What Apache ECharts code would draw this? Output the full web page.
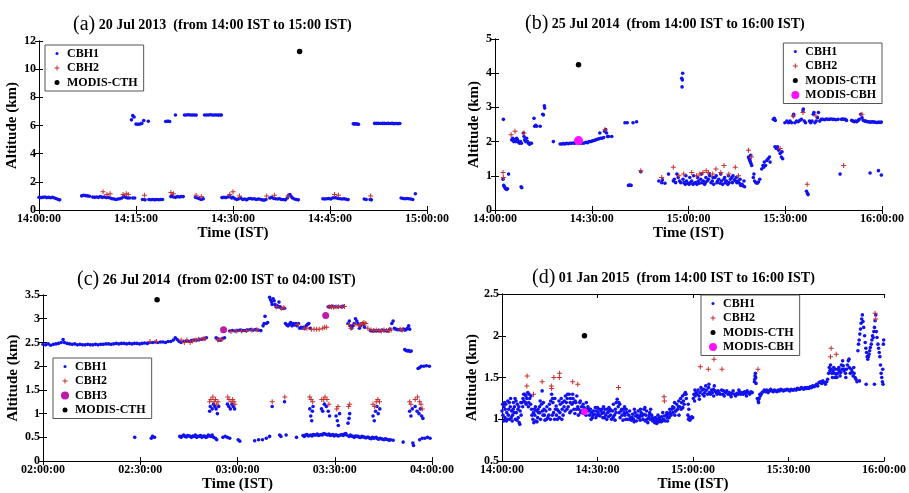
<!DOCTYPE html>
<html><head><meta charset="utf-8">
<script src="https://cdn.jsdelivr.net/npm/echarts@6/dist/echarts.min.js"></script>
<style>html,body{margin:0;padding:0;background:#fff}#c{width:909px;height:493px}</style>
</head><body><div id="c"></div>
<script>
// time in minutes after panel start, altitude in km
const panelTitles = ['(a)', '(b)', '(c)', '(d)'];
const panelSubtitles = [
  ' 20 Jul 2013  (from 14:00 IST to 15:00 IST)',
  ' 25 Jul 2014  (from 14:00 IST to 16:00 IST)',
  ' 26 Jul 2014  (from 02:00 IST to 04:00 IST)',
  ' 01 Jan 2015  (from 14:00 IST to 16:00 IST)'
];
const startHours = [14, 14, 2, 14];

// ---------- panel (a) ----------
const a_cbh1 = [
[0,0.9],[0.3,0.88],[0.6,0.9],[0.9,0.92],[1.2,0.88],[1.5,0.9],[1.8,0.87],[2.1,0.9],[2.4,0.85],[2.7,0.8],[3.0,0.75],[3.2,0.72],
[6.6,1.0],[6.9,1.05],[7.2,1.02],[7.5,1.0],[7.8,0.98],
[8.3,0.92],[8.6,0.9],[8.9,0.92],[9.2,0.9],[9.5,0.95],[9.8,0.9],[10.1,0.92],[10.4,0.88],[10.7,0.9],[11,0.85],[11.3,0.8],[11.6,0.78],[11.9,0.75],[12.2,0.78],[12.5,0.8],[12.8,0.85],[13.1,0.95],[13.4,0.9],[13.7,0.85],[14.0,0.85],
[14.3,6.4],[14.5,6.7],[14.7,6.6],[15.0,6.1],[15.3,6.08],[15.6,6.1],[15.9,6.15],[16.2,6.35],[16.9,6.3],
[14.5,0.85],[14.8,0.85],[16.0,0.75],[16.4,0.72],
[17.0,0.75],[17.3,0.73],[17.6,0.75],[17.9,0.72],[18.2,0.75],[18.5,0.73],[18.8,0.75],[19.1,0.75],
[19.6,6.28],[19.8,6.3],[20.0,6.3],[20.2,6.28],
[20.4,0.95],[20.6,1.0],[20.8,0.92],[21.1,0.9],[21.4,0.95],[21.7,0.92],[22.0,0.95],[22.3,0.95],
[21.1,6.75],
[22.5,6.75],[22.8,6.75],[23.1,6.76],[23.4,6.75],[23.7,6.75],[24.0,6.75],[24.3,6.74],
[24.2,0.9],[24.5,0.85],[24.8,0.8],[25.1,0.75],[25.4,0.8],
[25.6,6.75],[25.9,6.75],[26.2,6.75],[26.5,6.76],[26.8,6.75],[27.1,6.75],[27.4,6.75],[27.7,6.74],[28.0,6.75],[28.2,6.75],
[28.3,0.88],[28.6,0.9],[28.9,0.88],[29.2,0.92],[29.5,0.95],[29.8,0.85],[30.0,0.9],
[30.3,0.8],[30.6,0.75],[30.9,0.8],[31.2,0.85],[31.5,0.75],[31.8,0.78],[32.1,0.72],[32.4,0.8],[32.7,0.82],[33.0,0.78],[33.3,0.8],[33.6,0.75],[33.9,0.78],[34.2,0.76],[34.5,0.72],[34.8,0.7],[35.1,0.75],
[35.7,0.85],[36.0,0.9],[36.3,0.82],[36.6,0.8],[36.9,0.78],[37.2,0.8],[37.5,0.75],[37.8,0.75],[38.1,0.72],[38.4,0.85],[38.6,1.05],[38.8,1.1],[39.0,0.95],[39.2,0.85],
[39.5,0.78],[39.8,0.75],[40.1,0.72],
[43.9,0.8],[44.2,0.78],[44.5,0.8],[44.8,0.82],[45.1,0.78],[45.4,0.85],[45.7,0.88],[46.0,0.85],[46.3,0.82],[46.6,0.8],[46.9,0.78],[47.2,0.8],[47.5,0.76],[47.8,0.74],
[48.6,6.12],[48.8,6.1],[49.0,6.12],[49.2,6.1],[49.4,6.08],
[50.3,0.78],[50.6,0.75],[51.2,0.75],[51.4,0.72],
[51.9,6.15],[52.2,6.15],[52.5,6.15],[52.8,6.14],[53.1,6.15],[53.4,6.15],[53.7,6.14],[54.0,6.15],[54.3,6.14],[54.6,6.15],[54.9,6.13],[55.2,6.14],[55.5,6.13],[55.8,6.14],
[56.0,0.85],[56.3,0.82],[56.6,0.8],[56.9,0.82],[57.2,0.8],[57.5,0.78],[57.8,0.75],[58.2,1.15]
];
const a_cbh2 = [[9.9,1.3],[10.5,1.1],[11.0,1.15],[13.0,1.1],[13.5,1.15],[13.8,1.1],[16.3,1.05],[20.4,1.25],[20.8,1.15],[24.3,1.05],[25.1,0.95],[29.5,1.1],[30.0,1.3],[31.0,1.0],[35.2,1.0],[36.4,1.05],[38.5,1.0],[45.7,1.1],[46.3,1.05],[51.3,1.0]];
const a_cth = [[40.3,11.25]];

// ---------- panel (b) ----------
const b_cbh1 = [
[2.6,2.65],[2.5,0.9],[2.7,0.72],[2.9,0.68],[3.1,0.65],[3.3,0.62],[3.6,0.6],[3.9,0.62],[4.2,1.05],
[5.2,2.05],[5.5,2.1],[5.8,2.0],[6.1,2.05],[6.4,2.0],[6.7,2.1],[7.0,2.05],[7.3,1.98],[7.6,1.95],[7.9,2.0],[8.2,1.95],
[8.1,0.68],[8.3,0.65],
[8.8,2.25],[9.0,2.15],[9.2,2.05],[9.5,2.0],[9.8,2.1],[10.1,2.0],[10.4,1.95],[10.7,1.92],[11.0,1.95],[11.3,1.95],
[12.1,2.68],[12.3,2.45],[12.6,2.48],[12.9,2.45],[14.0,2.45],[14.8,2.8],[15.0,2.78],[15.3,3.05],[15.4,2.98],
[18.1,2.0],
[20.2,1.93],[20.7,1.93],[21.2,1.94],[21.7,1.93],[22.2,1.95],[22.7,1.94],[23.2,1.95],[23.7,1.95],[24.2,1.96],[24.7,1.95],[25.2,1.97],[25.7,1.96],[26.2,1.95],[26.7,1.96],[27.2,1.95],[27.7,1.96],[28.2,1.98],[28.7,1.97],[29.2,2.0],[29.7,2.0],[30.2,2.02],[30.7,2.03],[31.2,2.05],[31.7,2.07],[32.2,2.08],[32.5,2.25],[32.7,2.1],[33.2,2.1],[33.7,2.12],[34.0,2.3],[34.3,2.35],[34.6,2.25],[34.9,2.15],[35.2,2.15],[36.2,2.15],
[40.3,2.55],[41.0,2.55],[42.8,2.55],[43.9,2.58],
[41.4,0.72],[41.8,0.73],[42.2,0.72],
[45.2,1.12],
[50.8,0.85],[51.7,0.8],[51.9,0.88],[52.7,0.78],[53.8,1.05],
[55.3,0.85],[55.6,0.9],[56.0,0.8],[56.4,1.05],[56.8,0.95],[57.2,0.85],[57.6,0.8],
[57.9,3.85],[58.0,3.6],[58.2,4.0],[58.1,3.8],
[58.3,0.9],[58.6,0.8],[59.0,0.75],[59.4,0.85],[59.8,0.78],[60.2,0.75],[60.6,0.8],[61.0,0.85],[61.4,0.75],[61.8,0.78],[62.2,0.8],[62.6,0.75],[63.0,0.85],[63.4,0.78],[63.8,0.9],[64.2,0.8],[64.6,0.85],[65.0,0.75],[65.4,0.95],[65.8,0.85],[66.2,0.9],[66.6,1.0],[67.0,0.8],[67.4,0.85],[67.8,0.75],[68.2,0.95],[68.6,1.0],[69.0,0.85],[69.4,0.9],[69.8,0.78],[70.2,0.85],[70.6,0.75],[71.0,0.9],[71.4,0.8],[71.8,0.85],[72.2,0.75],[72.6,0.8],[73.0,0.9],[73.4,0.95],[73.8,1.0],[74.2,0.88],[74.6,0.85],[75.0,0.8],[75.4,0.85],[75.8,0.78],[76.2,0.72],[76.6,0.75],[77.0,0.7],[77.4,0.68],
[59.2,1.0],[60.4,0.95],[61.6,1.0],[62.8,0.95],[64.0,1.05],[65.2,0.8],[66.4,1.05],[67.6,0.95],[68.8,0.8],[70.0,1.05],[71.2,0.95],[72.4,1.0],[73.6,0.8],[74.8,0.95],[76.0,0.9],[77.2,0.85],
[78.6,1.55],[78.8,1.5],[79.0,1.45],[79.2,1.4],[79.4,1.35],[79.6,1.3],[79.3,1.6],
[80.1,0.95],[80.5,0.85],[80.9,0.8],[81.3,0.78],[81.7,0.82],[82.1,0.9],[80.3,1.05],
[82.7,1.2],[83.1,1.3],[83.5,1.4],[83.9,1.3],[84.3,1.45],[84.7,1.5],[85.1,1.55],[85.3,1.4],[83.3,1.25],
[86.3,2.65],[86.6,2.68],[86.9,2.62],
[86.8,1.85],[87.2,1.8],[87.6,1.85],[88.0,1.75],[88.4,1.65],[88.8,1.55],[89.2,1.5],[89.0,1.7],
[89.9,2.55],[90.5,2.6],[91.0,2.55],[91.5,2.6],[92.0,2.55],[92.5,2.75],[92.6,2.8],[93.0,2.55],[93.5,2.6],[94.0,2.58],[94.5,2.62],[95.0,2.65],[95.5,2.9],[95.6,2.95],[95.9,2.6],[96.3,2.55],
[96.6,0.55],[96.9,0.48],[97.1,0.45],
[97.5,2.6],[97.9,2.55],[98.3,2.6],[98.7,2.8],[98.9,2.85],[99.2,2.55],[99.6,2.6],[100.0,2.7],[100.3,2.85],[100.7,2.6],
[101.2,2.65],[101.7,2.65],[102.2,2.64],[102.7,2.66],[103.2,2.65],[103.7,2.65],[104.2,2.66],[104.7,2.65],[105.2,2.65],[105.7,2.64],[106.4,2.65],
[107.0,1.05],
[107.4,2.65],[107.8,2.66],[108.2,2.65],[108.6,2.65],[109.0,2.62],
[110.6,2.62],[111.0,2.6],[111.4,2.58],[111.8,2.6],[112.2,2.58],[112.6,2.62],[113.0,2.65],[113.4,2.8],[113.8,2.7],[114.2,2.62],[114.6,2.6],[115.0,2.6],[115.4,2.58],[115.8,2.58],[116.2,2.57],[116.6,2.57],[117.0,2.58],[117.4,2.57],[117.8,2.57],[118.2,2.56],[118.6,2.56],[119.0,2.57],[119.4,2.56],[119.8,2.57],
[116.3,1.08],[118.9,1.15],[119.8,1.02]
];
const b_cbh2 = [[2.5,1.1],[2.6,0.95],[6.2,2.3],[5.0,2.2],[9.0,2.25],[34.1,2.35],[45.2,1.15],[51.7,0.95],[55.3,1.25],[57.0,1.0],[58.5,1.05],[61.0,1.1],[62.5,1.0],[63.5,1.05],[64.5,1.1],[65.5,1.15],[66.2,1.1],[67.5,1.05],[68.5,1.2],[70.0,1.1],[71.0,1.3],[72.5,1.05],[74.5,1.25],[75.5,1.0],[78.6,1.75],[79.5,1.55],[88.4,1.8],[92.5,2.75],[96.8,0.75],[108.1,1.3],[113.8,2.8],[99.5,2.75],[95.5,2.85]];
const b_cth = [[25.9,4.25]];
const b_cbh = [[25.9,2.03]];

// ---------- panel (c) ----------
const c_cbh1 = [
[0,2.46],[0.8,2.45],[1.6,2.47],[2.4,2.44],[3.2,2.46],[4.0,2.47],[4.8,2.48],[5.6,2.5],[6.2,2.56],[6.6,2.5],[7.4,2.48],[8.2,2.47],[9.0,2.46],[9.8,2.47],[10.6,2.45],[11.4,2.46],[12.2,2.45],[13.0,2.45],[13.8,2.46],[14.6,2.45],[15.4,2.45],[16.2,2.46],[17.0,2.45],[17.8,2.46],[18.6,2.46],[19.4,2.47],[20.2,2.47],[21.0,2.46],[21.8,2.47],[22.6,2.48],[23.4,2.47],[24.2,2.48],[25.0,2.48],[25.8,2.47],[26.6,2.48],[27.4,2.47],[28.2,2.48],[29.0,2.48],[29.8,2.47],[30.6,2.48],[31.4,2.49],[32.2,2.48],[33.0,2.5],[33.8,2.5],[34.6,2.51],[35.4,2.5],[36.2,2.51],[37.0,2.51],[37.8,2.5],[38.6,2.52],[39.4,2.52],[40.2,2.55],[40.8,2.6],[41.4,2.56],[42.0,2.52],
[42.6,2.5],[43.4,2.52],[44.2,2.53],[45.0,2.52],[45.8,2.54],[46.6,2.55],[47.4,2.55],[48.2,2.56],[49.0,2.57],[49.8,2.58],[50.4,2.6],
[53.4,2.6],[53.8,2.58],[54.2,2.55],[54.8,2.55],[55.4,2.58],[56.0,2.6],
[57.6,2.74],[58.4,2.75],[59.2,2.74],[60.0,2.75],[60.8,2.76],[61.6,2.75],[62.4,2.75],[63.2,2.76],[64.0,2.77],[64.8,2.76],[65.6,2.77],[66.4,2.76],[67.2,2.75],[67.9,2.85],[68.2,2.9],[68.5,3.05],[68.9,2.9],[69.3,2.92],
[69.9,3.45],[70.2,3.4],[70.5,3.35],[70.7,3.3],[71.0,3.42],[71.3,3.38],[71.6,3.3],[71.9,3.25],[72.2,3.28],[72.5,3.25],[72.8,3.35],[73.1,3.25],[73.5,3.22],[74.0,3.22],[74.5,3.22],
[74.8,2.9],[75.2,2.87],[75.6,2.85],[76.0,2.88],[76.4,2.92],[76.8,2.85],[77.2,2.9],[77.6,2.87],[78.0,2.9],[78.4,2.85],[78.8,2.9],[79.2,2.8],[79.6,2.82],[80.0,2.8],[80.4,2.82],[80.8,2.8],[81.2,2.85],[81.6,2.88],[82.0,2.9],[82.4,2.8],
[88.0,3.25],[88.6,3.25],[89.2,3.26],[90.0,3.25],[91.0,3.25],[92.0,3.25],[92.6,3.26],
[94.1,2.9],[94.5,2.95],[94.8,2.85],[95.2,2.8],[95.6,2.85],[96.0,2.9],[96.4,3.0],[96.8,2.95],[97.2,2.9],[97.6,2.8],[98.0,2.85],[98.4,2.9],[98.8,2.88],[99.2,2.82],
[101.0,2.75],[101.6,2.74],[102.2,2.75],[102.8,2.74],[103.4,2.75],[104.0,2.74],[104.6,2.76],[105.2,2.75],[105.8,2.75],[106.4,2.74],[107.0,2.78],[107.6,2.9],[108.0,2.95],[108.4,2.8],[108.8,2.78],[109.4,2.77],[110.0,2.77],[110.6,2.76],[111.2,2.78],[111.6,2.76],[112.0,2.77],[112.4,2.8],[112.8,2.85],[113.1,2.78],
[111.6,2.35],[112.0,2.33],[112.4,2.32],[112.8,2.33],[113.2,2.31],[113.6,2.32],
[115.7,1.95],[116.2,1.97],[116.7,2.0],[117.5,2.0],[118.3,2.01],[119.2,2.0],
[28.3,0.5],[33.4,0.48],[33.8,0.52],[34.4,0.5],
[42.2,0.52],[43.0,0.53],[43.8,0.52],[44.6,0.54],[45.4,0.52],[46.2,0.53],[47.0,0.55],[47.8,0.52],[48.6,0.54],[49.4,0.52],[50.2,0.5],[51.0,0.55],[51.8,0.52],[52.6,0.5],[53.2,0.48],[53.6,0.45],
[42.6,0.5],[43.4,0.55],[44.2,0.51],[45.0,0.53],[45.8,0.5],[46.6,0.52],[47.4,0.5],[48.2,0.52],[49.0,0.5],[49.8,0.53],[50.6,0.51],[51.4,0.53],[52.2,0.55],
[55.5,0.5],[56.2,0.52],[56.9,0.5],[57.6,0.48],
[60.2,0.45],[60.7,0.42],
[65.3,0.43],[66.5,0.45],[67.7,0.45],[68.9,0.48],
[69.9,0.52],[73.0,0.55],[73.4,0.52],[75.0,0.55],[78.2,0.5],
[80.2,0.54],[81.0,0.55],[81.8,0.53],[82.6,0.55],[83.4,0.56],[84.2,0.55],[85.0,0.54],[85.8,0.56],[86.6,0.58],[87.4,0.56],[88.2,0.57],[89.0,0.55],[89.8,0.53],[90.6,0.55],[91.4,0.54],[92.2,0.56],[93.0,0.57],[93.6,0.55],
[80.6,0.52],[81.4,0.56],[82.2,0.54],[83.0,0.53],[83.8,0.55],[84.6,0.57],[85.4,0.55],[86.2,0.55],[87.0,0.57],[87.8,0.55],[88.6,0.54],[89.4,0.56],[90.2,0.55],[91.0,0.53],[91.8,0.55],[92.6,0.54],[93.4,0.58],
[94.4,0.52],[95.2,0.53],[96.0,0.5],[96.8,0.52],[97.6,0.5],[98.4,0.52],[99.2,0.5],[100.0,0.5],[100.8,0.48],[101.6,0.5],[102.4,0.49],[103.2,0.47],[104.0,0.48],[104.8,0.46],[105.6,0.47],[106.4,0.45],[107.2,0.45],[108.0,0.44],
[94.8,0.55],[95.6,0.52],[96.4,0.53],[97.2,0.52],[98.0,0.5],[98.8,0.51],[99.6,0.49],[100.4,0.5],[101.2,0.47],[102.0,0.48],[102.8,0.5],[103.6,0.46],[104.4,0.47],[105.2,0.45],[106.0,0.46],[106.8,0.44],
[111.1,0.4],[114.1,0.38],[114.3,0.33],
[116.2,0.45],[117.0,0.48],[117.8,0.48],[118.6,0.5],[119.4,0.48],
[51.4,1.05],[51.6,1.15],[52.2,1.1],[52.6,1.2],[53.0,1.15],[53.4,1.1],[53.8,1.0],[54.2,1.15],
[56.9,1.2],[57.3,1.15],[57.8,1.1],[58.3,1.2],[58.7,1.15],[59.1,1.1],
[70.7,1.15],[74.5,1.25],
[82.3,1.1],[82.6,0.95],[82.9,0.85],[83.1,1.05],[83.3,1.15],
[85.9,1.1],[86.3,1.05],[86.8,1.2],[87.4,1.15],[88.0,1.05],[88.4,0.95],
[90.4,0.95],[90.8,0.85],[91.1,0.75],[91.5,1.0],
[94.1,0.8],[94.4,0.9],[94.6,1.0],
[101.8,0.95],[102.2,0.85],[102.6,1.05],[103.0,1.15],[103.4,1.0],[103.9,1.1],
[113.1,1.05],[113.5,0.95],[113.9,1.1],[114.8,1.15],[115.4,1.05],[116.0,1.0],[116.4,1.1],[116.8,0.95],[117.2,0.9]
];
const c_cbh2 = [
[33.0,2.52],[35.0,2.52],[42.6,2.55],[43.6,2.5],[44.4,2.55],[45.4,2.5],[46.2,2.53],[47.2,2.55],[48.0,2.57],[49.4,2.58],[50.0,2.58],[53.9,2.55],[54.6,2.56],[55.2,2.57],[58.0,2.73],[59.6,2.74],[61.2,2.74],[62.8,2.75],[64.4,2.76],[66.0,2.77],[72.0,3.25],[73.6,3.22],[74.3,3.23],[78.6,2.88],[80.6,2.8],[81.4,2.8],[82.8,2.78],[83.6,2.78],[84.4,2.78],[85.2,2.78],[86.3,2.8],[86.9,2.82],[87.5,2.82],[88.3,3.25],[89.0,3.25],[89.6,3.24],[90.4,3.25],[91.2,3.25],[92.3,3.25],[93.0,3.26],[94.3,2.88],[95.0,2.8],[96.2,2.88],[97.4,2.85],[98.0,2.88],[98.6,2.9],[99.0,2.92],[99.6,2.9],[100.2,2.8],[101.2,2.76],[102.0,2.75],[102.8,2.76],[103.6,2.75],[104.4,2.74],[105.2,2.76],[106.0,2.75],[106.8,2.75],[107.4,2.76],[110.2,2.78],[110.8,2.76],
[51.4,1.25],[51.8,1.3],[52.4,1.35],[52.8,1.25],[53.2,1.3],[53.6,1.2],[54.0,1.25],[57.0,1.35],[57.4,1.3],[58.0,1.25],[58.5,1.3],[58.9,1.25],[59.2,1.2],[70.7,1.25],[74.6,1.35],[82.3,1.35],[82.7,1.3],[83.2,1.25],[86.0,1.3],[86.6,1.3],[87.0,1.35],[87.6,1.3],[88.2,1.2],[90.6,1.1],[91.0,1.15],[94.3,1.15],[94.6,1.2],[101.8,1.2],[102.3,1.15],[102.8,1.25],[103.3,1.3],[103.8,1.25],[113.1,1.25],[113.5,1.2],[114.8,1.3],[115.5,1.35],[116.2,1.25],[116.6,1.2],[117.0,1.1]
];
const c_cbh3 = [[55.7,2.77],[87.2,3.07]];
const c_cth = [[35.2,3.4]];

// ---------- panel (d) ----------
const d_cbh1 = [
[0,1.1],[0.3,1.05],[0.6,1.15],[0.9,1.02],[1.2,1.18],[1.5,1.08],[1.8,1.22],[2.1,1.12],[2.4,1.0],[2.7,1.25],[3.0,1.1],[3.3,1.05],[3.6,1.2],[3.9,1.15],[4.2,1.0],[4.5,1.08],[4.8,1.18],[5.1,1.02],[5.4,0.96],[5.7,1.1],[6.0,1.05],
[0.2,1.18],[0.8,1.2],[1.4,0.98],[2.0,1.05],[2.6,1.15],[3.2,0.98],[3.8,1.08],[4.4,1.22],[5.0,1.12],[5.6,0.94],
[0.5,0.98],[1.0,1.12],[1.7,1.0],[2.3,1.2],[2.9,1.02],[3.5,1.12],[4.1,1.25],[4.7,0.99],[5.3,1.15],[5.9,1.2],
[6.3,1.2],[6.6,1.25],[6.9,1.22],[7.2,1.3],[7.5,1.28],[7.8,1.25],[8.1,1.32],[8.4,1.2],[8.7,1.25],[9.0,1.18],[6.5,1.15],[7.4,1.2],[8.3,1.15],[9.1,1.28],
[6.8,1.3],[7.6,1.18],[8.5,1.3],[9.3,1.12],
[9.4,1.05],[9.7,1.0],[10.0,0.96],[10.3,1.05],[10.6,0.98],[10.9,1.1],[11.2,1.02],[11.5,1.08],[11.8,1.15],[12.1,1.0],[12.4,1.18],[12.6,1.34],[12.9,1.05],[13.2,1.12],[13.5,0.99],[13.8,1.1],[14.1,1.15],[14.4,1.02],[10.2,1.12],[11.0,0.97],[11.9,1.08],[13.0,1.2],
[9.9,1.08],[10.5,1.15],[11.3,1.12],[12.0,1.22],[12.7,1.1],[13.3,1.05],[14.0,1.0],
[14.7,1.05],[15.0,1.12],[15.3,1.22],[15.6,1.3],[15.9,1.25],[16.2,1.08],[16.5,1.0],[16.8,1.12],[17.1,1.05],[17.4,1.0],[17.7,1.1],[18.0,1.02],[18.3,1.18],[18.6,1.25],[18.9,1.12],[19.2,1.05],[19.5,1.15],[15.2,1.0],[16.0,1.2],[17.0,1.16],[17.9,1.22],[18.8,1.0],[19.6,1.22],
[14.9,1.18],[15.8,1.05],[16.6,1.25],[17.3,1.12],[18.2,1.08],[19.0,1.2],[19.8,1.1],
[19.9,1.28],[20.2,1.2],[20.5,1.25],[20.8,1.15],[21.1,1.3],[21.4,1.2],[21.7,1.1],[22.0,1.18],[22.3,1.25],[22.6,1.12],[22.9,1.07],[23.2,1.2],[23.5,1.28],[23.8,1.15],[20.4,1.12],[21.3,1.08],[22.2,1.3],[23.0,1.22],
[20.6,1.3],[21.5,1.25],[22.4,1.2],[23.3,1.12],[24.0,1.05],[24.9,1.1],[25.5,1.18],[26.4,1.05],[27.0,1.15],
[24.1,1.12],[24.4,1.2],[24.7,1.08],[25.0,1.15],[25.3,1.1],[25.6,1.07],[26.2,1.1],[26.5,1.2],[26.8,1.12],[24.6,1.22],[25.8,1.14],
[27.2,1.1],[27.5,1.05],[27.8,1.12],[28.1,1.08],[28.4,1.02],[28.7,1.1],[29.0,1.06],[29.3,1.14],[29.6,1.1],[29.9,1.05],[30.2,1.08],[30.5,1.12],[30.8,1.04],[31.1,1.1],[31.4,1.07],[31.7,1.02],[32.0,1.08],[32.3,1.12],[32.6,1.05],[32.9,1.0],[33.2,1.08],[33.5,1.03],[33.8,1.1],[28.0,1.0],[30.0,1.14],[31.9,1.15],[33.6,1.14],
[27.6,1.12],[28.6,1.05],[29.5,1.02],[30.4,1.05],[31.3,1.12],[32.2,1.02],[33.0,1.12],
[34.1,1.05],[34.4,1.0],[34.7,1.1],[35.0,1.18],[35.3,1.05],[35.6,1.12],[35.9,1.2],[36.2,1.24],[36.5,1.15],[36.8,1.08],[37.1,1.02],[37.4,1.1],[37.7,1.05],[38.0,0.99],[38.3,1.12],[38.6,1.05],[38.9,1.0],[39.2,1.08],[35.5,0.99],[37.0,1.18],[38.5,1.15],
[34.0,1.12],[34.9,1.02],[35.8,1.08],[36.7,1.2],[37.6,1.12],[38.4,1.08],[39.0,1.12],
[39.5,1.0],[39.8,1.05],[40.1,1.1],[40.4,1.02],[40.7,0.99],[41.0,1.06],[41.3,1.0],[41.6,1.12],[41.9,1.04],[42.2,0.98],[42.5,1.05],[42.8,1.1],[43.1,1.02],[43.4,0.99],[43.7,1.08],[44.0,1.04],[44.3,1.0],[44.6,1.12],[44.9,1.14],[45.2,1.05],[45.5,1.0],[45.8,0.96],[46.1,1.02],[46.4,1.08],[46.7,1.12],[47.0,1.05],[47.3,0.98],[41.5,0.97],[43.5,1.12],[45.0,0.98],[46.5,1.0],
[40.0,1.0],[40.9,1.02],[41.8,1.08],[42.7,1.02],[43.6,1.05],[44.5,1.06],[45.4,1.1],[46.3,1.05],[47.2,1.02],
[47.7,1.0],[48.0,0.96],[48.3,0.98],[48.6,0.95],[48.9,1.0],[49.2,0.97],[49.5,1.02],[49.8,0.99],[50.1,1.03],[50.4,0.98],[50.7,1.0],[51.0,1.04],[51.3,0.98],[51.6,1.05],[51.9,1.02],[52.2,1.06],[52.5,1.02],[49.0,1.05],[50.5,1.08],[52.0,0.98],
[48.2,1.02],[49.1,1.0],[50.0,0.97],[50.9,0.99],[51.8,1.08],
[52.8,1.08],[53.1,1.05],[53.4,1.12],[53.7,1.08],[54.0,1.14],[54.3,1.05],[54.6,1.1],[54.9,1.18],[55.2,1.12],[55.5,1.22],[55.8,1.15],[56.1,1.25],[56.4,1.2],[56.7,1.28],[57.0,1.22],[57.3,1.3],[57.6,1.32],[57.9,1.25],[54.2,1.2],[55.6,1.05],[56.8,1.14],
[52.7,1.12],[53.6,1.15],[54.5,1.1],[55.4,1.15],[56.3,1.12],[57.2,1.18],[57.8,1.3],
[58.4,1.05],[58.6,1.0],[58.8,1.02],[59.0,0.99],[59.3,1.01],[59.6,1.03],[59.9,1.02],[58.5,1.18],[58.7,1.12],
[60.1,1.25],[60.3,1.3],[60.5,1.22],[60.7,1.28],[61.0,1.32],[61.3,1.3],[61.6,1.35],[61.9,1.28],[62.2,1.32],[62.5,1.38],[62.8,1.35],[63.1,1.3],[63.4,1.36],[63.7,1.32],[64.0,1.4],[64.3,1.35],[64.6,1.3],[64.9,1.38],[65.2,1.32],[65.5,1.3],[65.8,1.35],[66.1,1.32],[66.4,1.36],[66.7,1.4],[67.0,1.34],[67.3,1.32],[67.6,1.3],[67.9,1.34],[60.6,1.35],[62.0,1.24],[63.5,1.28],[65.0,1.42],[66.5,1.28],
[68.2,1.32],[68.6,1.3],[69.0,1.35],[69.4,1.3],[69.8,1.28],[70.2,1.32],[70.6,1.34],[71.0,1.3],[71.4,1.32],[71.8,1.29],[72.2,1.31],[72.6,1.34],[73.0,1.3],[73.4,1.28],[73.8,1.31],[74.2,1.3],[74.6,1.33],[75.0,1.3],[75.4,1.32],[75.8,1.3],[76.2,1.33],[76.6,1.31],[77.0,1.34],[77.4,1.32],[77.8,1.3],[78.2,1.33],[78.6,1.32],[69.6,1.34],[72.0,1.27],[74.4,1.35],[76.8,1.28],
[79.3,1.45],[79.4,1.48],[79.5,1.52],[79.6,1.55],[79.7,1.5],[79.8,1.43],
[80.2,1.25],[80.5,1.22],[80.8,1.25],[81.1,1.28],[81.4,1.3],[81.7,1.32],[82.0,1.33],[82.4,1.35],[82.8,1.33],[83.2,1.35],[83.6,1.32],[84.0,1.34],[84.4,1.36],[84.8,1.34],[85.2,1.33],[85.6,1.35],[86.0,1.34],[86.4,1.33],[86.8,1.35],[87.2,1.34],[87.6,1.36],[88.0,1.35],[88.4,1.34],[88.8,1.35],[80.6,1.2],[81.0,1.3],
[89.2,1.35],[89.6,1.36],[90.0,1.35],[90.4,1.34],[90.8,1.36],[91.2,1.35],[91.6,1.35],[92.0,1.36],[92.4,1.35],[92.8,1.37],[93.2,1.36],[93.6,1.36],[94.0,1.38],[94.4,1.37],[94.8,1.36],[95.2,1.38],[95.6,1.37],[96.0,1.38],[96.4,1.37],[96.8,1.39],[97.2,1.38],[97.6,1.4],[98.0,1.39],[98.4,1.4],[98.8,1.42],[99.2,1.4],
[99.6,1.44],[100.0,1.45],[100.4,1.43],[100.8,1.46],[101.2,1.44],[101.6,1.42],[102.0,1.45],[102.3,1.48],
[102.6,1.55],[102.8,1.62],[103.0,1.58],[103.2,1.65],[103.4,1.6],[103.6,1.55],[103.8,1.5],[104.0,1.58],[104.2,1.62],[104.4,1.55],[104.6,1.5],[104.8,1.6],[105.0,1.54],[105.2,1.5],[105.4,1.55],[105.6,1.6],[105.8,1.62],[106.0,1.58],[106.2,1.52],[106.4,1.56],[106.6,1.65],[106.8,1.6],[107.0,1.7],[107.2,1.64],[107.4,1.58],
[107.6,1.6],[107.9,1.55],[108.2,1.6],[108.5,1.65],[108.8,1.7],[109.1,1.62],[109.4,1.55],[109.7,1.6],[110.0,1.57],[110.3,1.52],[110.6,1.55],[110.9,1.5],[111.2,1.48],[111.5,1.45],[108.0,1.5],[109.0,1.72],[110.5,1.62],
[111.8,1.82],[112.0,1.9],[112.2,1.95],[112.4,2.02],[112.6,2.08],[112.8,2.15],[113.0,2.2],[113.2,2.25],[113.4,2.17],[113.6,2.1],[112.3,1.46],
[113.9,2.0],[114.1,1.92],[114.3,1.85],[114.5,1.8],[114.7,1.75],[114.9,1.72],[115.1,1.75],[115.3,1.78],[115.5,1.82],[115.7,1.86],[114.4,1.42],
[116.0,1.9],[116.2,1.95],[116.4,2.0],[116.6,1.98],[116.8,2.05],[117.0,2.1],[117.2,2.18],[117.4,2.25],[117.6,2.05],[117.8,1.98],[117.0,1.42],
[118.1,1.9],[118.3,1.85],[118.5,1.8],[118.7,1.75],[118.9,1.65],[119.1,1.55],[119.3,1.5],[119.5,1.45],[119.7,1.42],[119.9,1.95],[119.8,1.9],[119.6,1.6]
];
const d_cbh2 = [[7.8,1.4],[7.9,1.52],[9.9,1.3],[12.6,1.45],[15.5,1.4],[15.6,1.37],[16.3,1.5],[18.1,1.55],[18.0,1.5],[22.2,1.45],[23.8,1.42],[36.6,1.38],[50.9,1.27],[51.0,1.22],[62.3,1.63],[64.8,1.6],[66.6,1.72],[69.1,1.6],[80.4,1.6],[103.4,1.85],[103.2,1.75],[105.0,1.78],[117.4,2.2],[117.2,2.27]];
const d_cth = [[25.9,2.0]];
const d_cbh = [[25.9,1.09]];

// ---------- styling ----------
const FONT = 'Liberation Serif';
const BLUE = '#1212ee', RED = '#c83030', MAG = '#ff10ff', PURP = '#c01aa8';
const PLUS = 'path://M2,0H3V2H5V3H3V5H2V3H0V2H2Z';
const IC_DOT3 = 'path://M0,0M10,10M3.5,5A1.5,1.5,0,1,0,6.5,5A1.5,1.5,0,1,0,3.5,5Z';
const IC_PLUS = 'path://M0,0M10,10M4.5,2.5H5.5V4.5H7.5V5.5H5.5V7.5H4.5V5.5H2.5V4.5H4.5Z';
const IC_DOT5 = 'path://M0,0M10,10M2.5,5A2.5,2.5,0,1,0,7.5,5A2.5,2.5,0,1,0,2.5,5Z';
const IC_DOT8 = 'path://M0,0M10,10M1,5A4,4,0,1,0,9,5A4,4,0,1,0,1,5Z';

const panels = [
  {grid:{left:39, top:41, width:388, height:169}, xmax:60, ymin:0, ymax:12, yint:2, yGap:12, titleLeft:68, titleTop:10,
   legend:{left:45, top:45}, legendItems:[['CBH1',IC_DOT3],['CBH2',IC_PLUS],['MODIS-CTH',IC_DOT5]],
   series:[['CBH1',a_cbh1],['CBH2',a_cbh2],['MODIS-CTH',a_cth]], sizes:{}},
  {grid:{left:495, top:39, width:387, height:171}, xmax:120, ymin:0, ymax:5, yint:1, yGap:6, titleLeft:520, titleTop:9,
   legend:{right:27, top:43}, legendItems:[['CBH1',IC_DOT3],['CBH2',IC_PLUS],['MODIS-CTH',IC_DOT5],['MODIS-CBH',IC_DOT8]],
   series:[['CBH1',b_cbh1],['CBH2',b_cbh2],['MODIS-CTH',b_cth],['MODIS-CBH',b_cbh]], sizes:{'MODIS-CBH':9}},
  {grid:{left:43, top:295, width:389, height:171}, xmax:120, ymin:0, ymax:3.5, yint:0.5, yGap:13, titleLeft:72, titleTop:265,
   legend:{left:53, top:358}, legendItems:[['CBH1',IC_DOT3],['CBH2',IC_PLUS],['CBH3',IC_DOT8],['MODIS-CTH',IC_DOT5]],
   series:[['CBH1',c_cbh1],['CBH2',c_cbh2],['CBH3',c_cbh3],['MODIS-CTH',c_cth]], sizes:{}},
  {grid:{left:502, top:294, width:386, height:171}, xmax:120, ymin:0.5, ymax:2.5, yint:0.5, yGap:14, titleLeft:527, titleTop:263,
   legend:{left:701, top:295}, legendItems:[['CBH1',IC_DOT3],['CBH2',IC_PLUS],['MODIS-CTH',IC_DOT5],['MODIS-CBH',IC_DOT8]],
   series:[['CBH1',d_cbh1],['CBH2',d_cbh2],['MODIS-CTH',d_cth],['MODIS-CBH',d_cbh]], sizes:{'MODIS-CBH':7}}
];

const styleFor = {
  'CBH1': {symbol:'circle', symbolSize:3.6, color:BLUE, z:2},
  'CBH2': {symbol:PLUS, symbolSize:5, color:RED, z:3},
  'CBH3': {symbol:'circle', symbolSize:7, color:PURP, z:4},
  'MODIS-CTH': {symbol:'circle', symbolSize:5.5, color:'#000', z:4},
  'MODIS-CBH': {symbol:'circle', symbolSize:8, color:MAG, z:4}
};

function pad(n){ return (n < 10 ? '0' : '') + n; }

const option = {animation:false, backgroundColor:'#fff', title:[], grid:[], xAxis:[], yAxis:[], legend:[], series:[]};
const tickLabel = {fontFamily:FONT, fontWeight:'bold', fontSize:12, color:'#000'};
const axisLineStyle = {lineStyle:{color:'#000', width:1}};

panels.forEach((p, i) => {
  option.title.push({
    left:p.titleLeft, top:p.titleTop,
    text:'{p|' + panelTitles[i] + '}{t|' + panelSubtitles[i] + '}',
    textStyle:{rich:{
      p:{fontFamily:FONT, fontSize:20, fontWeight:'normal', color:'#000'},
      t:{fontFamily:FONT, fontSize:14, fontWeight:'bold', color:'#000'}
    }}
  });
  option.grid.push(Object.assign({containLabel:false}, p.grid));
  const base = startHours[i];
  option.xAxis.push({
    type:'value', gridIndex:i, position:'bottom', min:0, max:p.xmax, interval:p.xmax/4,
    name:'Time (IST)', nameLocation:'middle', nameGap:14,
    nameTextStyle:{fontFamily:FONT, fontWeight:'bold', fontSize:15, color:'#000', verticalAlign:'top'},
    axisLine:axisLineStyle, axisTick:{inside:true, length:4, lineStyle:{color:'#000'}},
    axisLabel:Object.assign({margin:3, formatter:function(v){const m = base*60 + v; return pad(Math.floor(m/60)) + ':' + pad(Math.round(m%60)) + ':00';}}, tickLabel),
    splitLine:{show:false}
  });
  option.xAxis.push({
    type:'value', gridIndex:i, position:'top', min:0, max:p.xmax, interval:p.xmax/4,
    axisLine:axisLineStyle, axisTick:{inside:true, length:4, lineStyle:{color:'#000'}},
    axisLabel:{show:false}, splitLine:{show:false}
  });
  option.yAxis.push({
    type:'value', gridIndex:i, position:'left', min:p.ymin, max:p.ymax, interval:p.yint,
    name:'Altitude (km)', nameLocation:'middle', nameGap:p.yGap, nameRotate:90,
    nameTextStyle:{fontFamily:FONT, fontWeight:'bold', fontSize:15, color:'#000'},
    axisLine:axisLineStyle, axisTick:{inside:true, length:4, lineStyle:{color:'#000'}},
    axisLabel:Object.assign({margin:3}, tickLabel),
    splitLine:{show:false}
  });
  option.yAxis.push({
    type:'value', gridIndex:i, position:'right', min:p.ymin, max:p.ymax, interval:p.yint,
    axisLine:axisLineStyle, axisTick:{inside:true, length:4, lineStyle:{color:'#000'}},
    axisLabel:{show:false}, splitLine:{show:false}
  });
  option.legend.push(Object.assign({
    orient:'vertical', backgroundColor:'#fff', borderColor:'#555', borderWidth:1,
    padding:[2,6,2,7], itemGap:1.5, itemWidth:10, itemHeight:10, selectedMode:false,
    textStyle:{fontFamily:FONT, fontWeight:'bold', fontSize:12, color:'#000', lineHeight:13},
    data:p.legendItems.map(it => ({name:it[0], icon:it[1]}))
  }, p.legend));
  p.series.forEach(s => {
    const st = styleFor[s[0]];
    const size = p.sizes[s[0]] || st.symbolSize;
    option.series.push({
      type:'scatter', name:s[0], xAxisIndex:2*i, yAxisIndex:2*i,
      data:s[1], symbol:st.symbol, symbolSize:size, z:st.z,
      itemStyle:{color:st.color, opacity:1}, emphasis:{disabled:true}, silent:true
    });
  });
});

const chart = echarts.init(document.getElementById('c'), null, {renderer:'canvas'});
chart.setOption(option);
</script>
</body></html>
